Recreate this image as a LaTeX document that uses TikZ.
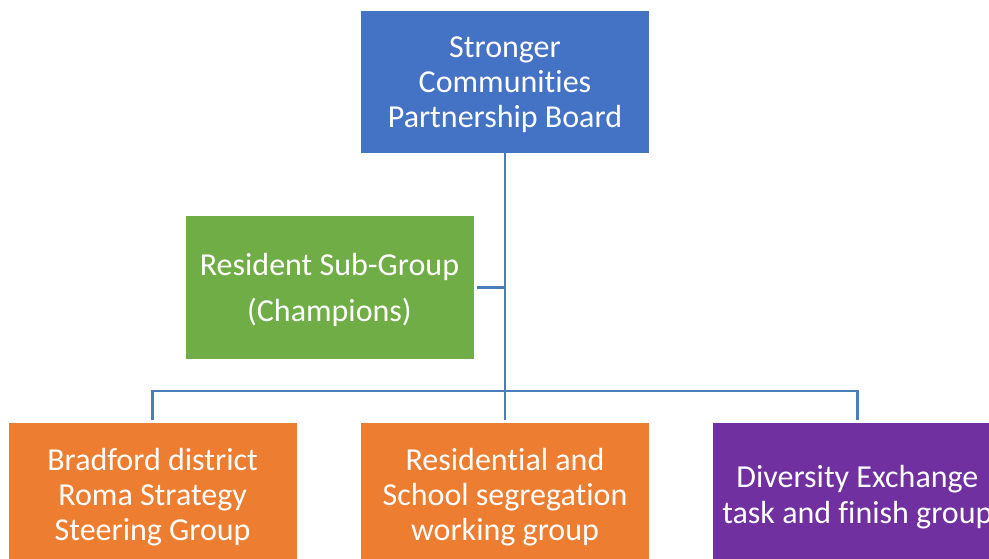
\documentclass[tikz,border=0pt]{standalone}
\usepackage{fontspec}
\setmainfont[Ligatures=NoCommon]{Carlito}
\usetikzlibrary{positioning}
\definecolor{boardblue}{HTML}{4472C4}
\definecolor{champgreen}{HTML}{70AD47}
\definecolor{grouporange}{HTML}{ED7D31}
\definecolor{grouppurple}{HTML}{7030A0}
\definecolor{linkblue}{HTML}{4A7EBB}

\begin{document}
\begin{tikzpicture}[x=1pt,y=-1pt,
	box/.style={minimum width=288pt,minimum height=142pt,inner sep=0pt,text depth=0pt,
		align=center,text=white,font=\fontsize{32}{35.3}\selectfont},
	link/.style={draw=linkblue,line width=2.6pt}
	]
	\useasboundingbox (0,0) rectangle (989,559);
	\node[box,fill=boardblue] (board) at (505,82) {Stronger\\Communities\\Partnership Board};
	\node[box,fill=champgreen] (resident) at (329.5,287.5) {Resident Sub-Group\\[10.5pt](Champions)};
	\node[box,fill=grouporange,below=270pt of board] (segregation) {Residential and\\School segregation\\working group};
	\node[box,fill=grouporange,left=64pt of segregation] (roma) {Bradford district\\Roma Strategy\\Steering Group};
	\node[box,fill=grouppurple,right=64pt of segregation] (diversity) {Diversity Exchange\\task and finish group};
	\coordinate (bar) at (505,391);
	\draw[link,shorten >=3pt] (board) -- (segregation);
	\draw[link,shorten <=3pt] (resident.east) -- (resident.east -| board);
	\draw[link,shorten <=3pt,shorten >=3pt] (roma.north) |- (bar) -| (diversity.north);
\end{tikzpicture}
\end{document}
